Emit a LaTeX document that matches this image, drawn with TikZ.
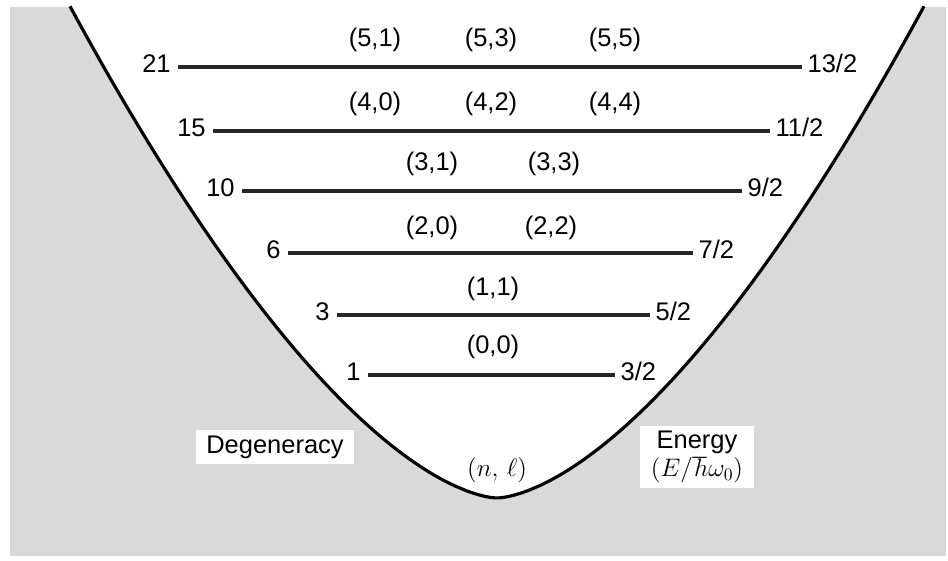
\documentclass[tikz,border=0pt]{standalone}
\usepackage{fontspec}
\setmainfont{Liberation Sans}
\begin{document}
\begin{tikzpicture}[
x=0.02cm, y=-0.02cm,
every node/.style={font=\fontsize{14.5}{16}\selectfont},
deg/.style={anchor=east, inner sep=4pt, text height=1.6ex, text depth=0.35ex},
en/.style={anchor=west, inner sep=3pt, text height=1.6ex, text depth=0.35ex},
nl/.style={inner sep=1pt, text height=1.6ex, text depth=0.35ex},
level/.style={line width=2pt, black!85},
well/.style={line width=1.8pt},
tag/.style={fill=white, inner xsep=6pt, inner ysep=3pt}
]
\useasboundingbox (0,0) rectangle (948,561);
\fill[black!15] (10,7) rectangle (946,556);
\fill[white] plot[domain=70:924, samples=200] (\x, {498-48.2*pow(((\x-497)/100)^2+0.000001,0.8)}) -- cycle;
\draw[well] plot[domain=70:924, samples=200] (\x, {498-48.2*pow(((\x-497)/100)^2+0.000001,0.8)});

\node[deg] (d21) at (178,67) {21};
\node[en] (e21) at (802,67) {13/2};
\draw[level] (d21) -- (e21);
\node[nl] (n51) at (375,41) {(5,1)};
\node[nl] (n53) at (491,41) {(5,3)};
\node[nl] (n55) at (615,41) {(5,5)};

\node[deg] (d15) at (213,131) {15};
\node[en] (e15) at (770,131) {11/2};
\draw[level] (d15) -- (e15);
\node[nl] (n40) at (375,105) {(4,0)};
\node[nl] (n42) at (491,105) {(4,2)};
\node[nl] (n44) at (615,105) {(4,4)};

\node[deg] (d10) at (242,191) {10};
\node[en] (e10) at (742,191) {9/2};
\draw[level] (d10) -- (e10);
\node[nl] (n31) at (432,165) {(3,1)};
\node[nl] (n33) at (554,165) {(3,3)};

\node[deg] (d6) at (288,253) {6};
\node[en] (e6) at (693,253) {7/2};
\draw[level] (d6) -- (e6);
\node[nl] (n20) at (432,229) {(2,0)};
\node[nl] (n22) at (551,229) {(2,2)};

\node[deg] (d3) at (337,315) {3};
\node[en] (e3) at (650,315) {5/2};
\draw[level] (d3) -- (e3);
\node[nl] (n11) at (493,290) {(1,1)};

\node[deg] (d1) at (368,375) {1};
\node[en] (e1) at (615,375) {3/2};
\draw[level] (d1) -- (e1);
\node[nl] (n00) at (493,348) {(0,0)};

\node[tag] (deglabel) at (275,447) {Degeneracy};
\node[tag, align=center] (enlabel) at (697,457) {Energy\\$(E/\hbar\omega_0)$};
\node (nllabel) at (497,470) {$(n,\,\ell)$};
\end{tikzpicture}
\end{document}
